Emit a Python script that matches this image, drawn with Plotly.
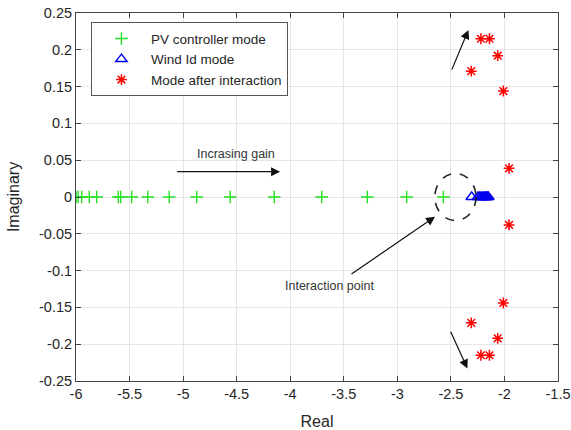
import plotly.graph_objects as go

# PV controller mode (real parts, imag = 0)
pv_real = [-6.0, -5.98, -5.947, -5.876, -5.807, -5.605, -5.583, -5.48, -5.33,
           -5.13, -4.873, -4.56, -4.149, -3.706, -3.28, -2.913, -2.57]
pv_imag = [0.0] * len(pv_real)

# Wind Id mode
wind_real = [-2.306, -2.247, -2.23, -2.215, -2.2, -2.19, -2.18, -2.17, -2.16, -2.15]
wind_imag = [0.0] * len(wind_real)

# Mode after interaction
int_real = [-2.22, -2.14, -2.063, -2.31, -2.01, -1.957,
            -2.22, -2.14, -2.063, -2.31, -2.01, -1.957]
int_imag = [0.215, 0.215, 0.192, 0.171, 0.144, 0.039,
            -0.215, -0.215, -0.192, -0.171, -0.144, -0.038]

x_ticks = [-6, -5.5, -5, -4.5, -4, -3.5, -3, -2.5, -2, -1.5]
x_labels = ["-6", "-5.5", "-5", "-4.5", "-4", "-3.5", "-3", "-2.5", "-2", "-1.5"]
y_ticks = [0.25, 0.2, 0.15, 0.1, 0.05, 0, -0.05, -0.1, -0.15, -0.2, -0.25]
y_labels = ["0.25", "0.2", "0.15", "0.1", "0.05", "0", "-0.05", "-0.1", "-0.15", "-0.2", "-0.25"]

FONT = "Liberation Sans, Arial"
TXT = "#262626"

fig = go.Figure()
fig.add_trace(go.Scatter(x=pv_real, y=pv_imag, mode="markers", name="PV controller mode",
                         marker=dict(symbol="cross-thin-open", size=9, color="#22e022",
                                     line=dict(color="#22e022", width=1.4))))
fig.add_trace(go.Scatter(x=wind_real, y=wind_imag, mode="markers", name="Wind Id mode",
                         marker=dict(symbol="triangle-up-open", size=10, color="#0000ee",
                                     line=dict(color="#0000ee", width=1.4))))
fig.add_trace(go.Scatter(x=int_real, y=int_imag, mode="markers", name="Mode after interaction",
                         marker=dict(symbol="asterisk-open", size=9, color="#ff0000",
                                     line=dict(color="#ff0000", width=1.5))))

axis_common = dict(showline=True, linecolor="#444444", linewidth=1, mirror="ticks",
                   ticks="inside", ticklen=5, tickcolor="#444444", automargin=False,
                   showgrid=True, gridcolor="#e6e6e6", gridwidth=1, zeroline=False,
                   tickfont=dict(family=FONT, size=14.5, color=TXT))

fig.update_xaxes(range=[-6, -1.5], tickvals=x_ticks, ticktext=x_labels,
                 title=dict(text="Real", font=dict(family=FONT, size=16, color=TXT)), **axis_common)
fig.update_yaxes(range=[-0.25, 0.25], tickvals=y_ticks, ticktext=y_labels,
                 title=dict(text="Imaginary", font=dict(family=FONT, size=16, color=TXT)), **axis_common)

# dashed circle around interaction point
fig.add_shape(type="circle", xref="x", yref="y", x0=-2.65, x1=-2.265, y0=-0.032, y1=0.032,
              line=dict(color="#222222", width=1.6, dash="dash"))

arrow_style = dict(showarrow=True, arrowhead=2, arrowsize=1.5, arrowwidth=1.2,
                   arrowcolor="#111111", xref="x", yref="y", axref="x", ayref="y", text="")
fig.add_annotation(x=-4.095, y=0.0344, ax=-5.069, ay=0.0344, **arrow_style)
fig.add_annotation(x=-2.336, y=0.227, ax=-2.497, ay=0.171, **arrow_style)
fig.add_annotation(x=-2.346, y=-0.233, ax=-2.508, ay=-0.181, **arrow_style)
fig.add_annotation(x=-2.648, y=-0.0268, ax=-3.442, ay=-0.106, **arrow_style)

fig.add_annotation(x=-4.508, y=0.058, text="Incrasing gain", showarrow=False, xref="x", yref="y",
                   font=dict(family=FONT, size=12.5, color="#333333"))
fig.add_annotation(x=-3.631, y=-0.121, text="Interaction point", showarrow=False, xref="x", yref="y",
                   font=dict(family=FONT, size=12.5, color="#333333"))

fig.update_layout(width=571, height=430, margin=dict(l=76, r=13, t=13, b=49),
                  plot_bgcolor="white", paper_bgcolor="white",
                  legend=dict(x=0.031, y=0.975, xanchor="left", yanchor="top",
                              bgcolor="white", bordercolor="#555555", borderwidth=1,
                              font=dict(family=FONT, size=13.5, color=TXT),
                              tracegroupgap=0, itemwidth=49),
                  showlegend=True)

fig.write_html("out.html")
